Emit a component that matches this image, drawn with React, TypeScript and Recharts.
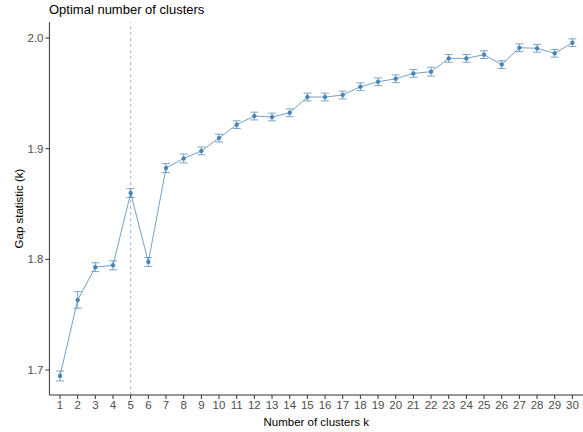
import React from "react";
import {
  ComposedChart,
  Line,
  ErrorBar,
  XAxis,
  YAxis,
  ReferenceLine,
  Label,
} from "recharts";

const CLUSTERS = Array.from({ length: 30 }, (_, i) => i + 1);

const GAP = [
  1.6946, 1.7633, 1.7929, 1.7946, 1.8599, 1.7976, 1.8825, 1.8912, 1.898, 1.9096,
  1.9217, 1.9295, 1.9286, 1.9325, 1.9467, 1.9467, 1.9485, 1.956, 1.9605, 1.9632,
  1.968, 1.9696, 1.9816, 1.9816, 1.985, 1.976, 1.9913, 1.9907, 1.9862, 1.9958,
];

const SE = [
  0.0045, 0.0075, 0.004, 0.004, 0.004, 0.004, 0.004, 0.004, 0.0035, 0.0035,
  0.0035, 0.0035, 0.0035, 0.0035, 0.0035, 0.0035, 0.0035, 0.0035, 0.0035, 0.0035,
  0.0035, 0.004, 0.0035, 0.0035, 0.0035, 0.0035, 0.0035, 0.0035, 0.0035, 0.0035,
];

const Y_TICKS = [1.7, 1.8, 1.9, 2.0];
const OPTIMAL_K = 5;

const STEEL = "#4682B4";
const FONT = "'Liberation Sans', Arial, sans-serif";

export default function App() {
  const data = CLUSTERS.map((k, i) => ({ k, gap: GAP[i], se: SE[i] }));

  return (
    <div
      style={{
        position: "absolute",
        top: 0,
        left: 0,
        width: 583,
        height: 432,
        background: "#fff",
        fontFamily: FONT,
      }}
    >
      <div
        style={{
          position: "absolute",
          left: 49,
          top: 2,
          fontSize: 13,
          color: "#000",
        }}
      >
        Optimal number of clusters
      </div>
      <ComposedChart
        width={583}
        height={432}
        data={data}
        margin={{ top: 22, right: 0, bottom: 0, left: 0 }}
      >
        <XAxis
          dataKey="k"
          type="number"
          domain={[0.4, 30.6]}
          ticks={CLUSTERS}
          interval={0}
          height={37}
          tickSize={4}
          tickMargin={2}
          stroke="#333"
          tick={{ fill: "#4d4d4d", fontSize: 11.5, fontFamily: FONT }}
          tickLine={{ stroke: "#333" }}
        >
          <Label
            value="Number of clusters k"
            position="insideBottom"
            offset={6}
            style={{ fill: "#000", fontSize: 11.5, fontFamily: FONT }}
          />
        </XAxis>
        <YAxis
          type="number"
          domain={[1.6774, 2.0145]}
          ticks={Y_TICKS}
          width={49.4}
          tickSize={4}
          tickMargin={2}
          stroke="#333"
          tickFormatter={(v: number) => v.toFixed(1)}
          tick={{ fill: "#4d4d4d", fontSize: 11.5, fontFamily: FONT }}
          allowDataOverflow
        >
          <Label
            value="Gap statistic (k)"
            angle={-90}
            position="insideLeft"
            offset={19}
            style={{ fill: "#000", fontSize: 11.5, fontFamily: FONT, textAnchor: "middle" }}
          />
        </YAxis>
        <ReferenceLine
          x={OPTIMAL_K}
          stroke="#7f9fbf"
          strokeOpacity={0.8}
          strokeDasharray="3 3"
        />
        <Line
          dataKey="gap"
          stroke={STEEL}
          strokeOpacity={0.75}
          strokeWidth={1}
          isAnimationActive={false}
          dot={{ r: 2, fill: STEEL, stroke: STEEL, strokeWidth: 0.5 }}
          activeDot={false}
        >
          <ErrorBar
            dataKey="se"
            direction="y"
            width={4}
            stroke={STEEL}
            strokeOpacity={0.7}
            strokeWidth={1}
            isAnimationActive={false}
          />
        </Line>
      </ComposedChart>
    </div>
  );
}
